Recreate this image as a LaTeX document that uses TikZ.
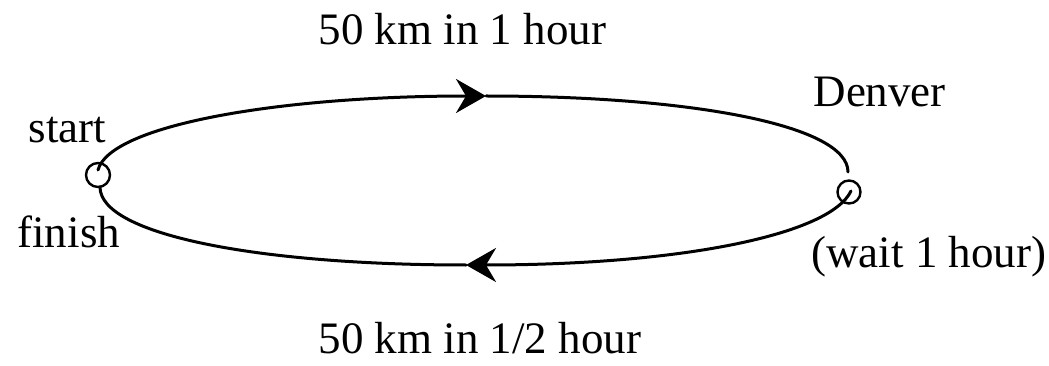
\documentclass[tikz,border=0pt]{standalone}
\usepackage{fontspec}
\setmainfont{Liberation Serif}
\usetikzlibrary{arrows.meta}
\begin{document}
\begin{tikzpicture}[x=1pt, y=-1pt, font=\fontsize{45}{54}\selectfont, line width=3pt, line join=round, line cap=round, >={Stealth[length=30pt,width=34pt,inset=10pt]}]
	\useasboundingbox (0,0) rectangle (1049,366);
	\path
	(98,175) coordinate (S)
	(849,192) coordinate (D)
	(98,170) coordinate (S_0)
	(100,187) coordinate (S_1)
	(851,191) coordinate (D_0)
	(848,172) coordinate (D_1)
	(486,96) coordinate (T)
	(466,265) coordinate (B)
	;
	\draw[->] (S_0) .. controls (110,125) and (280,96) .. (T);
	\draw (T) .. controls (690,96) and (848,125) .. (D_1);
	\draw[->] (D_0) .. controls (830,235) and (680,265) .. (B);
	\draw (B) .. controls (260,265) and (100,235) .. (S_1);
	\draw[line width=2.4pt] (S) circle (12pt) (D) circle (11.5pt);
	\path[every node/.style={anchor=base west, inner sep=0pt}]
	(317,45) node (lblgo) {50 km in 1 hour}
	(812,107) node (lbldenver) {Denver}
	(27,143) node (lblstart) {start}
	(16,247) node (lblfinish) {finish}
	(810,267) node (lblwait) {(wait 1 hour)}
	(317,353) node (lblback) {50 km in 1/2 hour}
	;
\end{tikzpicture}
\end{document}
